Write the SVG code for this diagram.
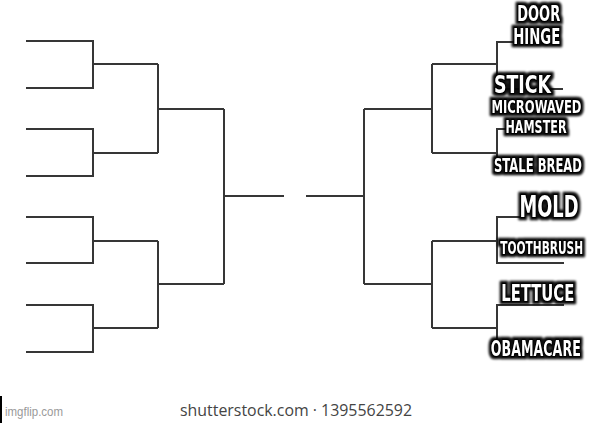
<svg xmlns="http://www.w3.org/2000/svg" width="590" height="423" viewBox="0 0 590 423">
  <defs>
    <filter id="glow" x="-20%" y="-50%" width="140%" height="200%">
      <feMorphology in="SourceAlpha" operator="dilate" radius="1.5" result="d"/>
      <feGaussianBlur in="d" stdDeviation="1.3" result="b"/>
      <feFlood flood-color="#000" flood-opacity="0.95"/>
      <feComposite in2="b" operator="in" result="s"/>
      <feMerge><feMergeNode in="s"/><feMergeNode in="SourceGraphic"/></feMerge>
    </filter>
  </defs>
  <style>
    .ln { fill: none; stroke: #363636; stroke-width: 2; stroke-linecap: butt; stroke-linejoin: miter; }
    .lbl { font-family: "Liberation Sans Narrow", "DejaVu Sans Condensed", "Liberation Sans", sans-serif; font-weight: bold; fill: #fff; stroke: #000; stroke-width: 2.6; paint-order: stroke; stroke-linejoin: round; text-anchor: middle; filter: url(#glow); }
    .wm { font-family: "Open Sans", "Lato", sans-serif; fill: #444; }
    .ig { font-family: "Liberation Sans", sans-serif; fill: #9a9a9a; }
  </style>
  <rect width="590" height="423" fill="#fff"/>

  <g id="connectors">
    <!-- left half -->
    <path class="ln" d="M26,41 H93 V88 H26"/>
    <path class="ln" d="M93,64 H158"/>
    <path class="ln" d="M26,129 H93 V176 H26"/>
    <path class="ln" d="M93,153 H158"/>
    <path class="ln" d="M158,64 V153"/>
    <path class="ln" d="M158,109 H224"/>
    <path class="ln" d="M26,217 H93 V263 H26"/>
    <path class="ln" d="M93,241 H158"/>
    <path class="ln" d="M26,305 H93 V352 H26"/>
    <path class="ln" d="M93,328 H158"/>
    <path class="ln" d="M158,241 V328"/>
    <path class="ln" d="M158,284 H224"/>
    <path class="ln" d="M224,109 V284"/>
    <path class="ln" d="M224,196 H284"/>
    <!-- right half -->
    <path class="ln" d="M306,196 H364"/>
    <path class="ln" d="M364,109 V284"/>
    <path class="ln" d="M364,109 H432"/>
    <path class="ln" d="M364,284 H432"/>
    <path class="ln" d="M432,64 V153"/>
    <path class="ln" d="M432,64 H497"/>
    <path class="ln" d="M432,153 H497"/>
    <path class="ln" d="M563,89 H497 V42 H514"/>
    <path class="ln" d="M506,129 H497 V160"/>
    <path class="ln" d="M432,241 V328"/>
    <path class="ln" d="M432,241 H497"/>
    <path class="ln" d="M432,328 H497"/>
    <path class="ln" d="M520,217 H497 V263 H564"/>
    <path class="ln" d="M564,305 H497 V345"/>
  </g>

  <g id="door-hinge">
    <text class="lbl" x="538.7" y="20.5" font-size="21" textLength="43" lengthAdjust="spacingAndGlyphs">DOOR</text>
    <text class="lbl" x="536.7" y="44" font-size="21" textLength="47" lengthAdjust="spacingAndGlyphs">HINGE</text>
  </g>
  <g id="stick">
    <text class="lbl" x="522.5" y="93" font-size="25" textLength="57" lengthAdjust="spacingAndGlyphs">STICK</text>
  </g>
  <g id="microwaved-hamster">
    <text class="lbl" x="536.5" y="113" font-size="18" textLength="90" lengthAdjust="spacingAndGlyphs">MICROWAVED</text>
    <text class="lbl" x="536" y="132.7" font-size="17" textLength="61" lengthAdjust="spacingAndGlyphs">HAMSTER</text>
  </g>
  <g id="stale-bread">
    <text class="lbl" x="538" y="172" font-size="19.5" textLength="88" lengthAdjust="spacingAndGlyphs">STALE BREAD</text>
  </g>
  <g id="mold">
    <text class="lbl" x="549" y="216.7" font-size="30" textLength="59" lengthAdjust="spacingAndGlyphs">MOLD</text>
  </g>
  <g id="toothbrush">
    <text class="lbl" x="541.7" y="254" font-size="17" textLength="83" lengthAdjust="spacingAndGlyphs">TOOTHBRUSH</text>
  </g>
  <g id="lettuce">
    <text class="lbl" x="537.8" y="300.7" font-size="23" textLength="73" lengthAdjust="spacingAndGlyphs">LETTUCE</text>
  </g>
  <g id="obamacare">
    <text class="lbl" x="535.8" y="355.7" font-size="22" textLength="90" lengthAdjust="spacingAndGlyphs">OBAMACARE</text>
  </g>

  <g id="watermark">
    <text class="wm" x="180" y="416" font-size="16" textLength="232" lengthAdjust="spacingAndGlyphs">shutterstock.com · 1395562592</text>
  </g>
  <g id="imgflip">
    <rect x="0" y="396" width="2" height="27" fill="#000"/>
    <text class="ig" x="5" y="416" font-size="12" textLength="58" lengthAdjust="spacingAndGlyphs">imgflip.com</text>
  </g>
</svg>
